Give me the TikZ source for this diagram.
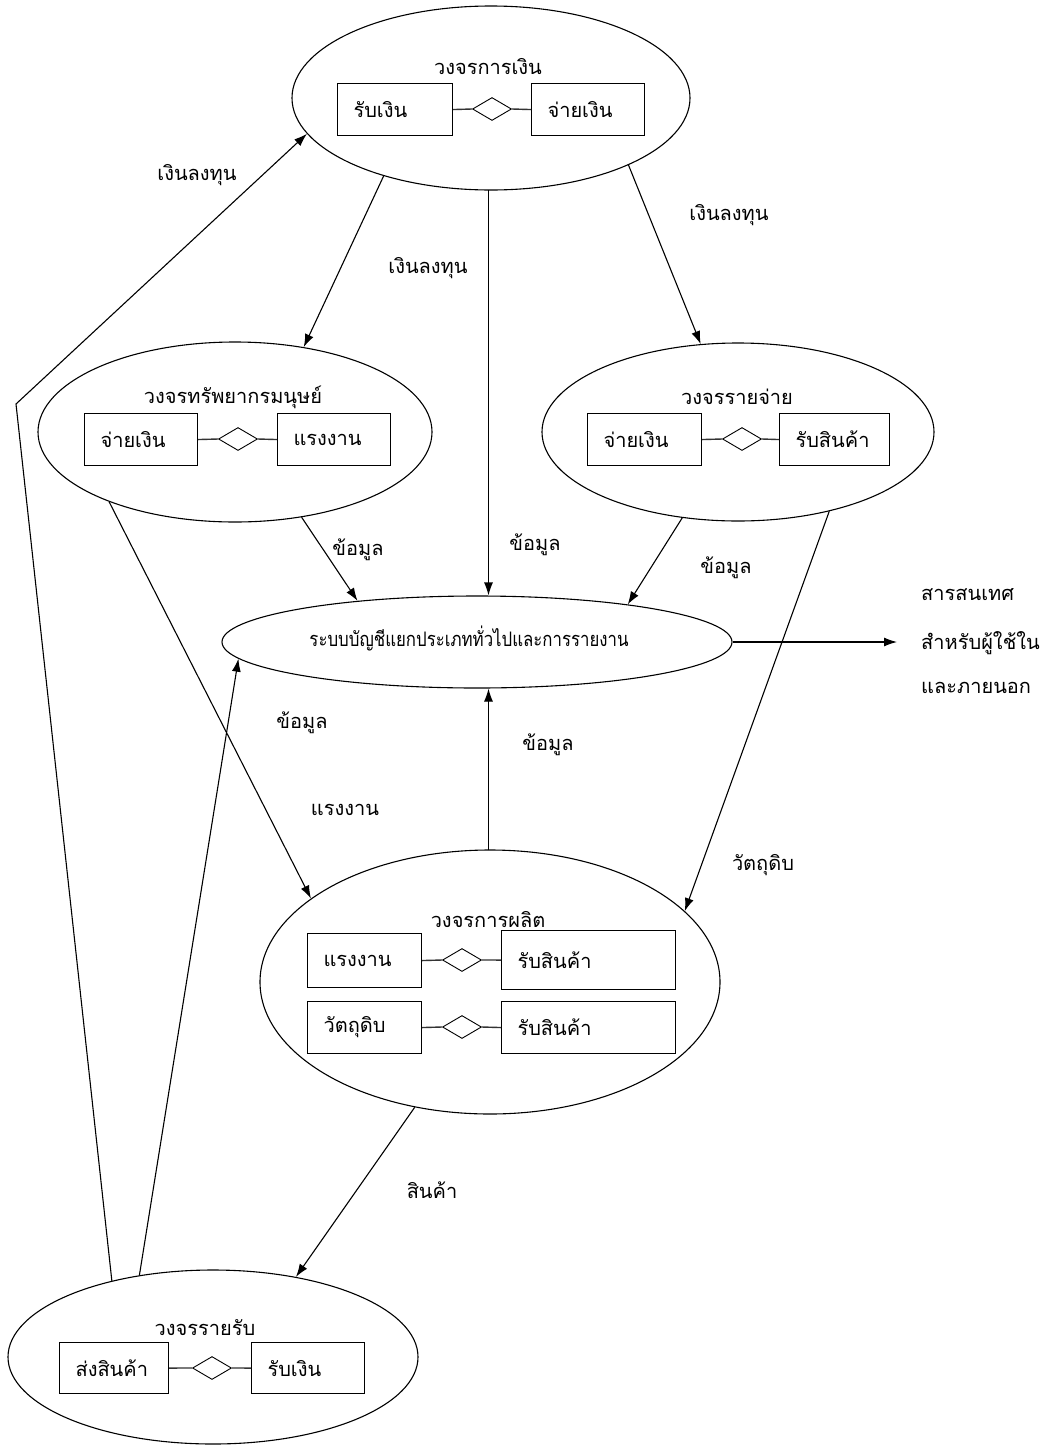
\documentclass[tikz,border=0pt]{standalone}
\usepackage{fontspec}
\newfontfamily\thaifont[Script=Thai]{Loma}
\usetikzlibrary{shapes.geometric,arrows.meta}
\begin{document}
\begin{tikzpicture}[x=1pt,y=-1pt,
  every node/.style={font=\thaifont\fontsize{20}{24}\selectfont},
  ell/.style={draw, ellipse, inner sep=0pt, line width=1.1pt},
  boxn/.style={draw, line width=1.1pt, anchor=north west, inner xsep=16pt, inner ysep=0pt, align=left},
  dia/.style={draw, diamond, aspect=1.7, inner sep=0pt, minimum width=39pt, minimum height=23pt, line width=0.9pt},
  lnk/.style={line width=1.4pt, draw=black!80},
  arr/.style={line width=1.1pt, -{Latex[length=13pt,width=9pt]}},
  lbl/.style={inner sep=0pt}
]
\useasboundingbox (0,0) rectangle (1054,1446);
\fill[white] (0,0) rectangle (1054,1446);

% ellipses
\node[ell, minimum width=398pt, minimum height=184pt] (E1) at (491,98) {};
\node[ell, minimum width=394pt, minimum height=180pt] (E2) at (235,432) {};
\node[ell, minimum width=392pt, minimum height=178pt] (E3) at (738,432) {};
\node[ell, minimum width=510pt, minimum height=92pt] (E4) at (477,642) {};
\node[ell, minimum width=460pt, minimum height=264pt] (E5) at (490,982) {};
\node[ell, minimum width=410pt, minimum height=174pt] (E6) at (213,1357) {};

% titles
\node[lbl] (T1) at (488,67) {วงจรการเงิน};
\node[lbl] (T2) at (233,397) {วงจรทรัพยากรมนุษย์};
\node[lbl] (T3) at (737,397) {วงจรรายจ่าย};
\node[lbl] (T4) at (469,638) {\scalebox{0.84}[1]{ระบบบัญชีแยกประเภททั่วไปและการรายงาน}};
\node[lbl] (T5) at (488,920) {วงจรการผลิต};
\node[lbl] (T6) at (205,1328) {วงจรรายรับ};

% E1 boxes
\node[boxn, text width=83pt, minimum height=52pt] (A1) at (337,83) {รับเงิน};
\node[boxn, text width=81pt, minimum height=52pt] (B1) at (531,83) {จ่ายเงิน};
\node[dia] (D1) at (492,109) {};
\draw[lnk] (A1.east) -- (D1.west);
\draw[lnk] (D1.east) -- (B1.west);

% E2 boxes
\node[boxn, text width=81pt, minimum height=52pt] (A2) at (84,413) {จ่ายเงิน};
\node[boxn, text width=81pt, minimum height=52pt] (B2) at (277,413) {แรงงาน};
\node[dia] (D2) at (238,439) {};
\draw[lnk] (A2.east) -- (D2.west);
\draw[lnk] (D2.east) -- (B2.west);

% E3 boxes
\node[boxn, text width=82pt, minimum height=52pt] (A3) at (587,413) {จ่ายเงิน};
\node[boxn, text width=78pt, minimum height=52pt] (B3) at (779,413) {รับสินค้า};
\node[dia] (D3) at (742,439) {};
\draw[lnk] (A3.east) -- (D3.west);
\draw[lnk] (D3.east) -- (B3.west);

% E5 boxes
\node[boxn, text width=82pt, minimum height=54pt] (A5) at (307,933) {แรงงาน};
\node[boxn, text width=142pt, minimum height=59pt] (B5) at (501,930) {รับสินค้า};
\node[dia] (D5) at (462,960) {};
\draw[lnk] (A5.east) -- (D5.west);
\draw[lnk] (D5.east) -- (B5.west);
\node[boxn, text width=82pt, minimum height=52pt] (C5) at (307,1001) {วัตถุดิบ};
\node[boxn, text width=142pt, minimum height=52pt] (F5) at (501,1001) {รับสินค้า};
\node[dia] (G5) at (462,1027) {};
\draw[lnk] (C5.east) -- (G5.west);
\draw[lnk] (G5.east) -- (F5.west);

% E6 boxes
\node[boxn, text width=77pt, minimum height=51pt] (A6) at (59,1342) {ส่งสินค้า};
\node[boxn, text width=81pt, minimum height=51pt] (B6) at (251,1342) {รับเงิน};
\node[dia] (D6) at (212,1368) {};
\draw[lnk] (A6.east) -- (D6.west);
\draw[lnk] (D6.east) -- (B6.west);

% connectors
\coordinate (corner) at (16,404);
\coordinate (outend) at (897,642);
\coordinate (topmid) at (488.5,190);
\coordinate (botmid) at (488.5,850);
\draw[arr] (E1.216) -- (E2.51.8);
\draw[arr] (topmid) -- (topmid |- E4.north);
\draw[arr] (E1.334) -- (E3.113.6);
\draw[arr] (E2.308) -- (E4.161.4);
\draw[arr] (E3.237.5) -- (E4.14.2);
\draw[arr] (E2.209.6) -- (E5.155.5);
\draw[arr] (E3.319.2) -- (E5.20.7);
\draw[arr] (botmid) -- (botmid |- E4.south);
\draw[arr] (E5.239) -- (E6.44);
\draw[arr] (E6.132.5) -- (E4.184.5);
\draw[arr] (E6.143.5) -- (corner) -- (E1.191.25);
\draw[arr] (E4.east) -- (outend);

% labels
\node[lbl] (L1) at (197,175) {เงินลงทุน};
\node[lbl] (L2) at (428,268) {เงินลงทุน};
\node[lbl] (L3) at (729,215) {เงินลงทุน};
\node[lbl] (L4) at (358,550) {ข้อมูล};
\node[lbl] (L5) at (535,545) {ข้อมูล};
\node[lbl] (L6) at (726,568) {ข้อมูล};
\node[lbl] (L7) at (302,723) {ข้อมูล};
\node[lbl] (L8) at (548,745) {ข้อมูล};
\node[lbl] (L9) at (345,810) {แรงงาน};
\node[lbl] (L10) at (763,865) {วัตถุดิบ};
\node[lbl] (L11) at (432,1190) {สินค้า};
\node[lbl, anchor=west] (O1) at (921,595) {สารสนเทศ};
\node[lbl, anchor=west] (O2) at (921,643) {สำหรับผู้ใช้ใน};
\node[lbl, anchor=west] (O3) at (921,688) {และภายนอก};
\end{tikzpicture}
\end{document}
